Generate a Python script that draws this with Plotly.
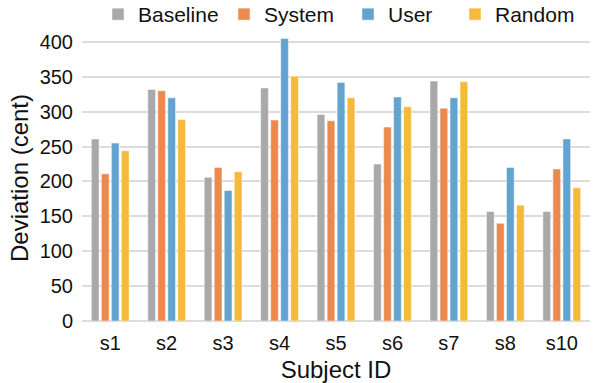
import plotly.graph_objects as go

subjects = ["s1", "s2", "s3", "s4", "s5", "s6", "s7", "s8", "s10"]
baseline = [261, 332, 206, 334, 296, 225, 344, 157, 157]
system = [211, 330, 220, 288, 287, 278, 305, 140, 218]
user = [255, 320, 187, 405, 342, 321, 320, 220, 261]
random_ = [244, 289, 214, 351, 320, 307, 343, 166, 191]

series = [
    ("Baseline", baseline, "#A9A9AA", "legend"),
    ("System", system, "#EA8A4F", "legend2"),
    ("User", user, "#63A3D0", "legend3"),
    ("Random", random_, "#F5BA3A", "legend4"),
]
# legend entry positions (px)
legend_x = [118, 244, 368, 475]

W, H = 593, 383
fig = go.Figure()
for name, vals, col, lg in series:
    fig.add_trace(go.Bar(
        x=subjects, y=vals, name=name, legend=lg,
        marker=dict(color=col, line=dict(color="rgba(255,255,255,0.6)", width=0.8)),
    ))

font = "Liberation Sans, Arial, Helvetica, sans-serif"
layout_legends = {}
for (name, _, _, lg), cx in zip(series, legend_x):
    layout_legends[lg] = dict(
        orientation="h", xref="container", yref="container",
        x=(cx - 20) / W, xanchor="left", y=1 - 14.5 / H, yanchor="middle",
        font=dict(size=21), bgcolor="rgba(0,0,0,0)", borderwidth=0,
    )

fig.update_layout(
    width=W, height=H,
    margin=dict(l=82, r=3, t=34, b=62),
    paper_bgcolor="white", plot_bgcolor="white",
    font=dict(family=font, size=20, color="#111"),
    barmode="group", bargap=0.29, bargroupgap=0.23,
    showlegend=True,
    xaxis=dict(title=dict(text="Subject ID", standoff=9), showgrid=False,
               showline=False, ticks="", ticklabelstandoff=8,
               tickfont=dict(size=20), automargin=False),
    yaxis=dict(title=dict(text="Deviation (cent)", standoff=4), range=[0, 410],
               tickvals=[0, 50, 100, 150, 200, 250, 300, 350, 400],
               showgrid=True, gridcolor="#DCDCDC", gridwidth=1.5,
               zeroline=True, zerolinecolor="#DCDCDC", zerolinewidth=1.5,
               ticks="", ticklabelstandoff=8, tickfont=dict(size=20), automargin=False),
    **layout_legends,
)

fig.write_html("out.html", config={"displayModeBar": False},
               post_script="document.body.style.margin='0';")
